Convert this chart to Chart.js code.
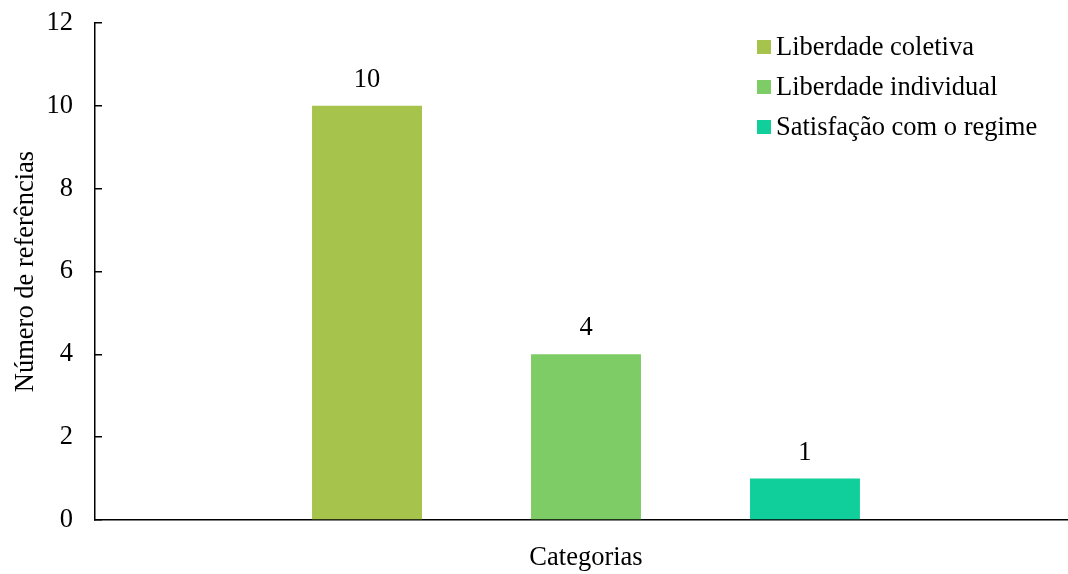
<!DOCTYPE html>
<html>
<head>
<meta charset="utf-8">
<script src="https://cdn.jsdelivr.net/npm/chart.js@4/dist/chart.umd.min.js"></script>
<style>
  html, body { margin: 0; padding: 0; background: #fff; }
  #wrap { width: 1068px; height: 574px; }
</style>
</head>
<body>
<div id="wrap"><canvas id="c" width="1068" height="574"></canvas></div>
<script>
const categories = [''];
const seriesNames = ['Liberdade coletiva', 'Liberdade individual', 'Satisfação com o regime'];
const seriesValues = [[10], [4], [1]];
const seriesColors = ['#A6C34B', '#7ECC66', '#11CF9B'];
const yTicks = [0, 2, 4, 6, 8, 10, 12];
const xTitle = 'Categorias';
const yTitle = 'Número de referências';

const FONT = '"Liberation Serif", "Times New Roman", serif';
const FS = 26.5;

// Plot area as in the reference (extends slightly past the right edge of the canvas)
const plotBox = {
  id: 'plotBox',
  afterLayout(chart) {
    const area = chart.chartArea;
    const top = 23, right = 1077, bottom = 520;
    area.top = top; area.right = right; area.bottom = bottom;
    area.width = area.right - area.left; area.height = area.bottom - area.top;
    const xs = chart.scales.x, ys = chart.scales.y;
    xs.right = right; xs.width = xs.right - xs.left;
    xs.top = bottom; xs.height = xs.bottom - xs.top;
    xs.configure();
    ys.top = top; ys.bottom = bottom; ys.height = bottom - top;
    ys.configure();
  }
};

const valueLabels = {
  id: 'valueLabels',
  afterDatasetsDraw(chart) {
    const ctx = chart.ctx;
    ctx.save();
    ctx.font = FS + 'px ' + FONT;
    ctx.fillStyle = '#000';
    ctx.textAlign = 'center';
    ctx.textBaseline = 'middle';
    chart.data.datasets.forEach((ds, i) => {
      const meta = chart.getDatasetMeta(i);
      meta.data.forEach((bar, j) => {
        ctx.fillText(String(ds.data[j]), bar.x, bar.y - 26);
      });
    });
    ctx.restore();
  }
};

const insideLegend = {
  id: 'insideLegend',
  afterDraw(chart) {
    const ctx = chart.ctx;
    ctx.save();
    ctx.font = FS + 'px ' + FONT;
    ctx.textAlign = 'left';
    ctx.textBaseline = 'middle';
    chart.data.datasets.forEach((ds, i) => {
      const cy = 47 + i * 40;
      ctx.fillStyle = ds.backgroundColor;
      ctx.fillRect(757, cy - 7, 14, 14);
      ctx.fillStyle = '#000';
      ctx.fillText(ds.label, 776, cy + 1);
    });
    ctx.restore();
  }
};

new Chart(document.getElementById('c'), {
  type: 'bar',
  data: {
    labels: categories,
    datasets: seriesNames.map((name, i) => ({
      label: name,
      data: seriesValues[i],
      backgroundColor: seriesColors[i],
      borderWidth: 0,
      barPercentage: 0.502,
      categoryPercentage: 0.669
    }))
  },
  options: {
    responsive: false,
    animation: false,
    devicePixelRatio: 1,
    layout: { padding: { left: 0, right: 0, top: 2, bottom: 0 } },
    plugins: {
      legend: { display: false },
      tooltip: { enabled: false }
    },
    scales: {
      x: {
        grid: { display: false, drawTicks: false },
        border: { display: true, color: '#000', width: 1.5 },
        ticks: { display: false },
        title: {
          display: true, text: xTitle, color: '#000',
          font: { family: FONT, size: FS }, padding: { top: 0, bottom: 0 }
        },
        afterFit(scale) { scale.height = 54; }
      },
      y: {
        min: 0, max: 12,
        afterBuildTicks(scale) { scale.ticks = yTicks.map(v => ({ value: v })); },
        grid: { drawOnChartArea: false, drawTicks: true, tickLength: -7, color: '#000', lineWidth: 1.5 },
        border: { display: true, color: '#000', width: 1.5 },
        ticks: { color: '#000', padding: 29, font: { family: FONT, size: FS } },
        title: {
          display: true, text: yTitle, color: '#000',
          font: { family: FONT, size: FS }, padding: { top: 10, bottom: 0 }
        },
        afterFit(scale) { scale.width = 95; }
      }
    }
  },
  plugins: [plotBox, valueLabels, insideLegend]
});
</script>
</body>
</html>
